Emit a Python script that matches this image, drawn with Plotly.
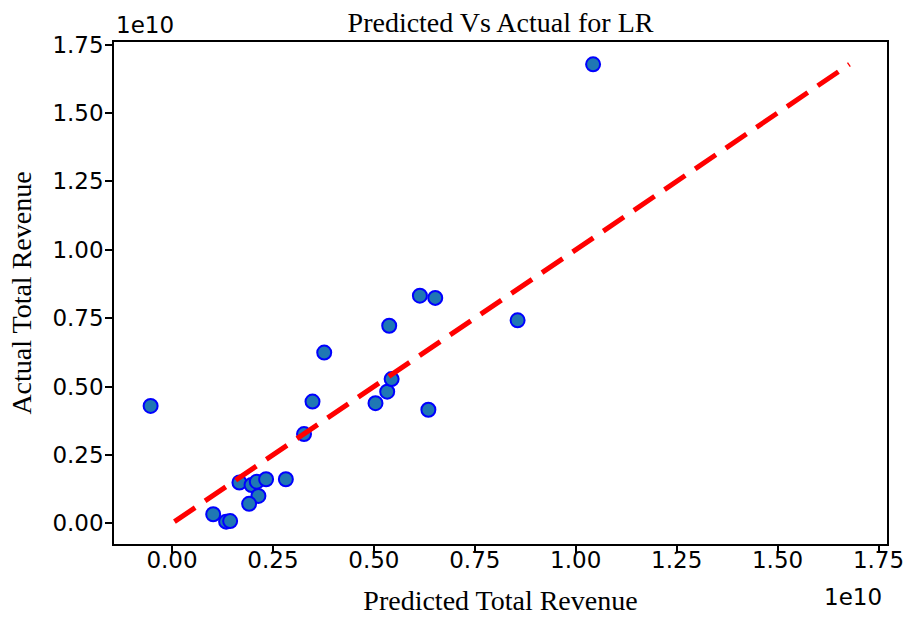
import plotly.graph_objects as go

# Values in units of 1e10
predicted = [-0.053, 0.102, 0.134, 0.144, 0.167, 0.197, 0.210, 0.233, 0.214, 0.191, 0.282,
             0.327, 0.348, 0.377, 0.504, 0.533, 0.544, 0.635, 0.538, 0.614, 0.652, 0.856, 1.043]
actual = [0.429, 0.033, 0.006, 0.008, 0.149, 0.140, 0.152, 0.161, 0.100, 0.071, 0.161,
          0.326, 0.445, 0.624, 0.439, 0.481, 0.527, 0.415, 0.722, 0.832, 0.824, 0.742, 1.678]
tick_vals = [0.0, 0.25, 0.5, 0.75, 1.0, 1.25, 1.5, 1.75]
tick_text = ["0.00", "0.25", "0.50", "0.75", "1.00", "1.25", "1.50", "1.75"]

line_ends = [min(actual), max(actual)]

fig = go.Figure()
fig.add_trace(go.Scatter(
    x=predicted, y=actual, mode="markers",
    marker=dict(size=14, color="#1f77b4", line=dict(color="#0000ff", width=2)),
    showlegend=False))
fig.add_trace(go.Scatter(
    x=line_ends, y=line_ends, mode="lines",
    line=dict(color="#ff0000", width=5, dash="25px,12px"),
    showlegend=False))

serif = "Liberation Serif, Times New Roman, serif"
sans = "DejaVu Sans, sans-serif"

axis_common = dict(
    showgrid=False, zeroline=False, showline=True, linecolor="black", linewidth=1.5,
    mirror=True, ticks="outside", ticklen=7, tickwidth=1.5, tickcolor="black",
    tickvals=tick_vals, ticktext=tick_text, automargin=False,
    tickfont=dict(family=sans, size=23, color="black"),
)

fig.update_layout(
    width=906, height=617,
    paper_bgcolor="white", plot_bgcolor="white",
    margin=dict(l=114, r=19, t=42, b=73, autoexpand=False),
    title=dict(text="Predicted Vs Actual for LR", xref="paper", x=0.5, xanchor="center",
               y=0.9643, yanchor="middle",
               font=dict(family=serif, size=28, color="black")),
    xaxis=dict(range=[-0.1437, 1.771], ticklabelstandoff=-12,
               title=dict(text="Predicted Total Revenue", standoff=18,
                          font=dict(family=serif, size=28, color="black")),
               **axis_common),
    yaxis=dict(range=[-0.0758, 1.7595], ticklabelstandoff=-3,
               title=dict(text="Actual Total Revenue", standoff=13,
                          font=dict(family=serif, size=28, color="black")),
               **axis_common),
    annotations=[
        dict(text="1e10", xref="paper", yref="paper", x=0.0, y=1.0, xanchor="left",
             yanchor="bottom", yshift=2, showarrow=False,
             font=dict(family=sans, size=23, color="black")),
        dict(text="1e10", xref="paper", yref="paper", x=1.0, y=0.0, xanchor="right",
             yanchor="top", yshift=-38, xshift=-3, showarrow=False,
             font=dict(family=sans, size=23, color="black")),
    ],
)

fig.write_html(
    "out.html",
    config={"displayModeBar": False},
    post_script="document.body.style.margin='0';document.body.style.overflow='hidden';",
)
